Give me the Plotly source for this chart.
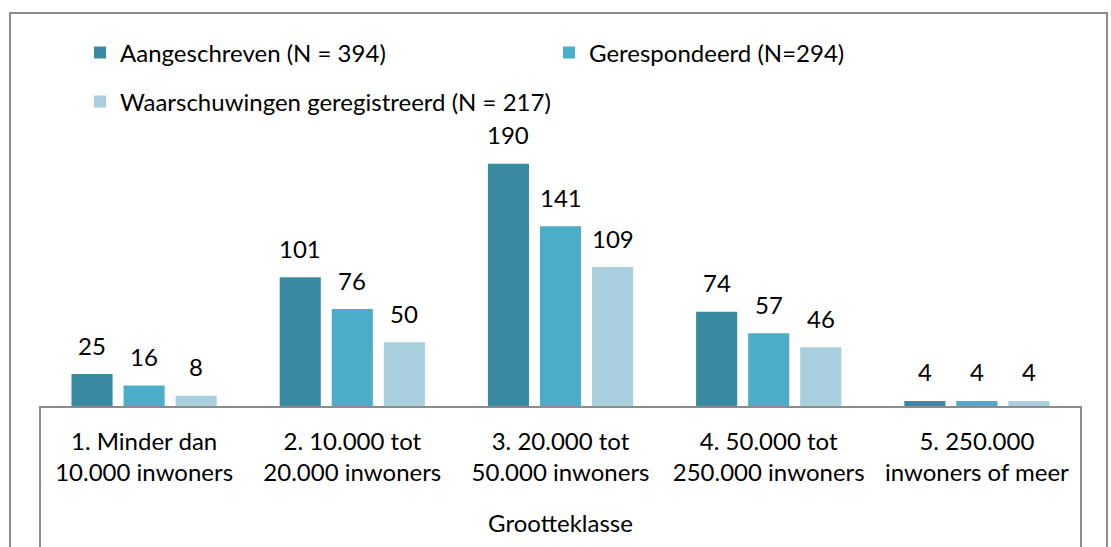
import plotly.graph_objects as go

categories = [
    "1. Minder dan<br>10.000 inwoners",
    "2. 10.000 tot<br>20.000 inwoners",
    "3. 20.000 tot<br>50.000 inwoners",
    "4. 50.000 tot<br>250.000 inwoners",
    "5. 250.000<br>inwoners of meer",
]
series_names = [
    "Aangeschreven (N = 394)",
    "Gerespondeerd (N=294)",
    "Waarschuwingen geregistreerd (N = 217)",
]
aangeschreven = [25, 101, 190, 74, 4]
gerespondeerd = [16, 76, 141, 57, 4]
waarschuwingen = [8, 50, 109, 46, 4]
series_values = [aangeschreven, gerespondeerd, waarschuwingen]
colors = ["#3A8BA2", "#4BADC7", "#A9CFDE"]
legend_ids = ["legend", "legend", "legend2"]

FONT = "Lato"
FS = 24
BARGAP = 0.25
GRAY = "#8C8C8C"

W, H = 1111, 547
ML, MR, MT, MB = 40, 30, 151, 141
PW = W - ML - MR
PH = H - MT - MB

fig = go.Figure()
for name, vals, col, lg in zip(series_names, series_values, colors, legend_ids):
    fig.add_trace(go.Bar(
        x=categories, y=vals, name=name, marker_color=col,
        marker_line_width=0, legend=lg,
    ))

n = len(series_values)
annotations = []
for k, vals in enumerate(series_values):
    for i, v in enumerate(vals):
        annotations.append(dict(
            x=i + (k - (n - 1) / 2) * (1 - BARGAP) / n, y=v,
            xref="x", yref="y", text=str(v), showarrow=False,
            yanchor="middle", yshift=29,
            font=dict(family=FONT, size=FS, color="#000000"),
        ))

def px_x(px):
    return (px - ML) / PW

def px_y(py):
    return (H - MB - py) / PH

shapes = [
    # outer chart border
    dict(type="rect", xref="paper", yref="paper",
         x0=px_x(10), x1=px_x(1107), y0=px_y(560), y1=px_y(13),
         line=dict(color=GRAY, width=2), fillcolor="rgba(0,0,0,0)", layer="below"),
    # category box verticals
    dict(type="line", xref="paper", yref="paper",
         x0=0, x1=0, y0=0, y1=px_y(560), line=dict(color=GRAY, width=2)),
    dict(type="line", xref="paper", yref="paper",
         x0=1, x1=1, y0=0, y1=px_y(560), line=dict(color=GRAY, width=2)),
]

fig.update_layout(
    width=W, height=H,
    margin=dict(l=ML, r=MR, t=MT, b=MB, autoexpand=False),
    paper_bgcolor="white", plot_bgcolor="white",
    barmode="group", bargap=BARGAP, bargroupgap=0.21,
    font=dict(family=FONT, size=FS, color="#000000"),
    showlegend=True,
    legend=dict(orientation="h", x=px_x(80), y=px_y(53), xanchor="left", yanchor="middle",
                entrywidth=424, entrywidthmode="pixels", itemwidth=30,
                font=dict(family=FONT, size=FS, color="#000000"), bgcolor="rgba(0,0,0,0)"),
    legend2=dict(orientation="h", x=px_x(80), y=px_y(102), xanchor="left", yanchor="middle",
                 itemwidth=30,
                 font=dict(family=FONT, size=FS, color="#000000"), bgcolor="rgba(0,0,0,0)"),
    xaxis=dict(
        showline=True, linecolor=GRAY, linewidth=2, ticks="", showgrid=False,
        tickfont=dict(family=FONT, size=FS, color="#000000"),
        ticklabelstandoff=13,
        title=dict(text="Grootteklasse", standoff=30,
                   font=dict(family=FONT, size=FS, color="#000000")),
        automargin=False,
    ),
    yaxis=dict(range=[0, 200], visible=False, showgrid=False, zeroline=False),
    annotations=annotations,
    shapes=shapes,
)

fig.write_html(
    "out.html",
    config={"displayModeBar": False},
    post_script="document.body.style.margin='0';document.body.style.padding='0';",
)
